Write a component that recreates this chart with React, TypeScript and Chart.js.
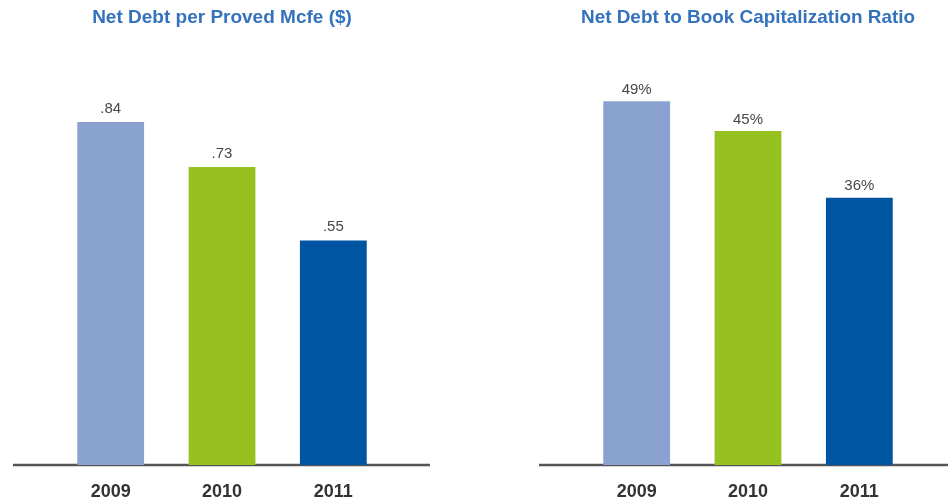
import React, { useEffect, useRef } from "react";
import { Chart, registerables } from "chart.js";

Chart.register(...registerables);

const years = ["2009", "2010", "2011"];
const debtPerMcfe = [0.84, 0.73, 0.55];
const debtToCap = [49, 45, 36];
const barColors = ["#8aa2d0", "#97c11f", "#0055a2"];
const leftTitle = "Net Debt per Proved Mcfe ($)";
const rightTitle = "Net Debt to Book Capitalization Ratio";

const FONT = "'Liberation Sans', Arial, sans-serif";

function makeConfig(
  title: string,
  values: number[],
  max: number,
  fmt: (v: number) => string,
  pad: { left: number; right: number },
  axisLine: { from: number; to: number },
  labelGap: number
): any {
  const axisPlugin = {
    id: "axisLine",
    beforeDatasetsDraw(chart: any) {
      const ctx = chart.ctx;
      const y = chart.scales.y.getPixelForValue(0);
      ctx.save();
      ctx.strokeStyle = "#555555";
      ctx.lineWidth = 2.5;
      ctx.beginPath();
      ctx.moveTo(axisLine.from, y);
      ctx.lineTo(axisLine.to, y);
      ctx.stroke();
      ctx.restore();
    },
  };
  const labelPlugin = {
    id: "valueLabels",
    afterDatasetsDraw(chart: any) {
      const ctx = chart.ctx;
      const meta = chart.getDatasetMeta(0);
      ctx.save();
      ctx.fillStyle = "#484848";
      ctx.font = `15px ${FONT}`;
      ctx.textAlign = "center";
      ctx.textBaseline = "bottom";
      meta.data.forEach((bar: any, i: number) => {
        ctx.fillText(fmt(values[i]), bar.x, bar.y - labelGap);
      });
      ctx.restore();
    },
  };
  return {
    type: "bar",
    data: {
      labels: years,
      datasets: [
        {
          data: values,
          backgroundColor: barColors,
          borderWidth: 0,
          categoryPercentage: 1,
          barPercentage: 0.6,
        },
      ],
    },
    options: {
      animation: false,
      responsive: true,
      maintainAspectRatio: false,
      layout: { padding: { left: pad.left, right: pad.right, top: 0, bottom: 0 } },
      plugins: {
        legend: { display: false },
        tooltip: { enabled: false },
        title: {
          display: true,
          text: title,
          color: "#3472bd",
          font: { family: FONT, size: 19, weight: "bold", lineHeight: 1.2 },
          padding: { top: 6, bottom: 28 },
        },
      },
      scales: {
        x: {
          grid: { display: false, drawTicks: false },
          border: { display: false },
          afterFit: (scale: any) => {
            scale.height = 37;
          },
          ticks: {
            color: "#333333",
            padding: 18,
            font: { family: FONT, size: 18, weight: "bold", lineHeight: 1 },
          },
        },
        y: { display: false, min: 0, max },
      },
    },
    plugins: [axisPlugin, labelPlugin],
  };
}

function Panel({ config, left }: { config: any; left: number }) {
  const ref = useRef<HTMLCanvasElement | null>(null);
  useEffect(() => {
    if (!ref.current) return;
    const chart = new Chart(ref.current, config);
    return () => chart.destroy();
  }, [config]);
  return (
    <div style={{ position: "absolute", left, top: 0, width: 474, height: 502 }}>
      <canvas ref={ref} />
    </div>
  );
}

const leftConfig = makeConfig(
  leftTitle,
  debtPerMcfe,
  1.0,
  (v) => v.toFixed(2).replace(/^0/, ""),
  { left: 55, right: 85 },
  { from: 13, to: 430 },
  6
);
const rightConfig = makeConfig(
  rightTitle,
  debtToCap,
  55,
  (v) => `${v}%`,
  { left: 107, right: 33 },
  { from: 65, to: 474 },
  4
);

export default function App() {
  return (
    <div
      style={{
        position: "absolute",
        left: 0,
        top: 0,
        width: 948,
        height: 502,
        background: "#ffffff",
        overflow: "hidden",
      }}
    >
      <Panel config={leftConfig} left={0} />
      <Panel config={rightConfig} left={474} />
    </div>
  );
}
